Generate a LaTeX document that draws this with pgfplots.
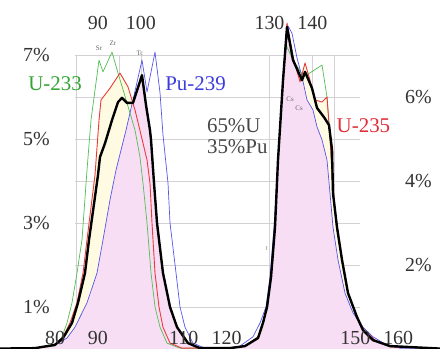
\documentclass[border=0pt]{standalone}
\usepackage{pgfplots}
\pgfplotsset{compat=1.18}
\usepackage{fontspec}
\setmainfont{Liberation Serif}
\definecolor{cU233}{RGB}{80,190,80}
\definecolor{tU233}{RGB}{50,165,50}
\definecolor{cU235}{RGB}{232,60,60}
\definecolor{tU235}{RGB}{225,45,55}
\definecolor{cPu}{RGB}{85,85,235}
\definecolor{tPu}{RGB}{60,60,220}
\definecolor{cream}{RGB}{255,251,226}
\definecolor{pinkf}{RGB}{248,222,244}
\definecolor{gridc}{RGB}{212,208,214}
\begin{document}
\begin{tikzpicture}
\pgfplotsset{base/.style={scale only axis, width=440bp, height=349bp,
  xmin=67.18, xmax=169.74, ymin=0, ymax=8.31,
  axis line style={draw=none}, tick style={draw=none},
  /pgf/number format/assume math mode=true,
  ticklabel style={font=\fontsize{20}{24}\selectfont, text=black!80, inner sep=0pt}}}
\begin{axis}[base, name=main, xtick=\empty, ytick=\empty]
% grid
\foreach \yy in {1,...,7}{ \addplot[gridc, line width=0.6bp] coordinates {(84.7,\yy) (151,\yy)}; }
\foreach \xx in {85,95,100,130,135,140,145}{ \addplot[gridc, line width=0.6bp] coordinates {(\xx,0) (\xx,7)}; }
% cream fill under U-235
\addplot[fill=cream, draw=none] coordinates {
(67.2,0.01)(75.34,0.02)(80.0,0.10)(81.86,0.29)(83.50,0.62)(85.13,1.10)(86.53,1.81)(87.46,2.60)(89.32,4.14)(90.26,5.45)(90.72,5.93)(92.82,6.21)(95.15,6.57)(97.02,6.24)(98.65,5.69)(100.05,5.10)(101.45,4.50)(102.14,3.95)(102.61,3.00)(103.31,1.81)(104.24,1.00)(105.17,0.52)(106.81,0.14)(109.60,0.02)(120.79,0.02)(124.29,0.07)(127.32,0.29)(128.48,0.62)(129.42,1.00)(130.35,1.71)(131.28,2.90)(131.98,4.50)(133.15,6.40)(134.08,7.76)(135.48,6.95)(137.11,6.36)(138.28,6.81)(139.44,6.40)(140.61,5.93)(142.24,5.88)(143.40,6.00)(144.10,5.05)(144.80,3.71)(145.73,2.90)(146.90,2.12)(148.30,1.33)(150.40,0.76)(152.03,0.45)(154.59,0.21)(158.55,0.05)(169.7,0.01)
} \closedcycle;
% pink fill
\addplot[fill=pinkf, draw=none] coordinates {
(75.34,0.02)(80.0,0.10)(82.80,0.26)(84.66,0.52)(87.46,1.10)(89.79,1.81)(91.19,2.60)(92.82,3.55)(94.22,4.26)(96.55,5.21)(98.18,5.86)(100.28,6.52)(101.21,5.81)(102.14,5.21)(102.38,4.98)(103.08,3.95)(103.78,3.00)(105.17,1.81)(106.81,1.00)(108.44,0.52)(111.0,0.14)(113.8,0.02)
} \closedcycle;
\addplot[fill=pinkf, draw=none] coordinates {
(120.79,0.02)(124.29,0.07)(127.32,0.26)(128.48,0.62)(129.42,1.00)(130.35,1.71)(131.28,2.90)(131.98,4.50)(133.15,6.40)(134.08,7.67)(135.48,6.88)(137.58,6.40)(138.74,5.93)(140.14,5.69)(141.07,5.29)(142.24,4.98)(143.40,4.50)(144.10,3.71)(144.80,2.90)(145.97,2.12)(147.60,1.33)(149.46,0.86)(151.79,0.52)(154.13,0.29)(156.92,0.12)(160.42,0.02)
} \closedcycle;
% U-233
\addplot[cU233, line width=0.7bp, line join=round] coordinates {
(67.2,0.01)(75.34,0.02)(80.0,0.07)(81.63,0.29)(82.80,0.62)(83.96,1.10)(85.13,1.81)(86.29,2.60)(87.46,4.26)(88.39,5.45)(90.26,6.88)(91.19,6.60)(93.29,7.07)(94.69,6.57)(96.78,5.86)(98.65,5.21)(99.81,4.57)(100.51,3.95)(101.45,3.00)(102.38,1.81)(103.31,1.00)(104.48,0.52)(106.11,0.14)(109.14,0.02)(120.79,0.02)(124.29,0.07)(127.32,0.29)(128.48,0.62)(129.42,1.00)(130.35,1.71)(131.28,2.90)(131.98,4.50)(133.15,6.40)(133.85,7.24)(135.48,6.88)(138.0,6.48)(142.24,6.76)(143.40,6.00)(144.10,5.05)(144.80,3.71)(145.73,2.90)(146.90,2.12)(148.30,1.33)(150.16,0.76)(151.79,0.45)(154.13,0.21)(158.09,0.05)(169.7,0.01)
};
% Pu-239
\addplot[cPu, line width=0.7bp, line join=round] coordinates {
(67.2,0.01)(75.34,0.02)(80.0,0.10)(82.80,0.26)(84.66,0.52)(87.46,1.10)(89.79,1.81)(91.19,2.60)(92.82,3.55)(94.22,4.26)(96.55,5.21)(98.18,5.93)(100.28,6.88)(101.45,6.12)(103.31,7.07)(104.48,6.10)(105.17,5.10)(106.34,3.95)(106.81,3.00)(108.21,1.81)(109.14,1.00)(110.30,0.52)(112.17,0.14)(114.97,0.02)(119.6,0.02)(123.12,0.07)(126.15,0.29)(127.79,0.62)(129.18,1.00)(130.12,1.71)(131.05,2.90)(131.98,4.50)(133.15,6.40)(134.31,7.69)(135.24,7.52)(136.41,6.93)(137.58,6.48)(138.74,5.93)(140.14,5.69)(141.07,5.29)(142.24,4.98)(143.40,4.50)(144.10,3.71)(144.80,2.90)(145.97,2.12)(147.60,1.33)(149.46,0.86)(151.79,0.52)(154.13,0.29)(156.92,0.12)(160.42,0.02)(169.7,0.01)
};
% U-235
\addplot[cU235, line width=0.9bp, line join=round] coordinates {
(67.2,0.01)(75.34,0.02)(80.0,0.10)(81.86,0.29)(83.50,0.62)(85.13,1.10)(86.53,1.81)(87.46,2.60)(89.32,4.14)(90.26,5.45)(90.72,5.93)(92.82,6.21)(95.15,6.57)(97.02,6.24)(98.65,5.69)(100.05,5.10)(101.45,4.50)(102.14,3.95)(102.61,3.00)(103.31,1.81)(104.24,1.00)(105.17,0.52)(106.81,0.14)(109.60,0.02)(120.79,0.02)(124.29,0.07)(127.32,0.29)(128.48,0.62)(129.42,1.00)(130.35,1.71)(131.28,2.90)(131.98,4.50)(133.15,6.40)(134.08,7.76)(135.48,6.95)(137.11,6.36)(138.28,6.81)(139.44,6.40)(140.61,5.93)(142.24,5.88)(143.40,6.00)(144.10,5.05)(144.80,3.71)(145.73,2.90)(146.90,2.12)(148.30,1.33)(150.40,0.76)(152.03,0.45)(154.59,0.21)(158.55,0.05)(169.7,0.01)
};
% 65% U + 35% Pu
\addplot[black, line width=2.4bp, line join=round] coordinates {
(67.2,0.01)(75.34,0.02)(80.0,0.10)(81.86,0.26)(83.96,0.62)(85.36,1.10)(86.99,1.81)(87.93,2.60)(90.02,4.14)(90.49,4.57)(91.66,4.90)(93.29,5.45)(94.69,5.88)(95.62,5.98)(96.78,5.86)(98.18,5.86)(100.28,6.52)(101.21,5.81)(102.14,5.21)(102.38,4.98)(103.08,3.95)(103.78,3.00)(105.17,1.81)(106.81,1.00)(108.44,0.52)(111.0,0.14)(113.8,0.02)(120.79,0.02)(124.29,0.07)(127.32,0.26)(128.48,0.62)(129.42,1.00)(130.35,1.71)(131.28,2.90)(131.98,4.50)(133.15,6.40)(134.08,7.67)(135.48,6.88)(137.58,6.40)(138.28,6.60)(139.91,6.21)(141.07,5.74)(142.70,5.52)(143.87,5.33)(144.57,4.74)(144.80,3.71)(145.73,2.90)(146.90,2.12)(148.30,1.33)(150.40,0.76)(151.79,0.45)(154.13,0.21)(158.09,0.07)(169.7,0.01)
};
% labels
\node[text=tU233, font=\fontsize{21}{25}\selectfont] at (axis cs:80.0,6.31) {U-233};
\node[text=tPu, font=\fontsize{21}{25}\selectfont] at (axis cs:112.75,6.31) {Pu-239};
\node[text=tU235, font=\fontsize{21}{25}\selectfont] at (axis cs:151.9,5.31) {U-235};
\node[text=black!72, anchor=west, inner sep=0pt, font=\fontsize{21}{25}\selectfont] at (axis cs:115.4,5.31) {65\%U};
\node[text=black!72, anchor=west, inner sep=0pt, font=\fontsize{21}{25}\selectfont] at (axis cs:115.4,4.81) {35\%Pu};
\node[text=black!60, font=\fontsize{7}{8}\selectfont] at (axis cs:90.26,7.17) {Sr};
\node[text=black!60, font=\fontsize{7}{8}\selectfont] at (axis cs:93.5,7.29) {Zr};
\node[text=black!60, font=\fontsize{7}{8}\selectfont] at (axis cs:99.8,7.05) {Tc};
\node[text=black!60, font=\fontsize{7}{8}\selectfont] at (axis cs:134.8,5.95) {Cs};
\node[text=black!60, font=\fontsize{7}{8}\selectfont] at (axis cs:136.9,5.74) {Cs};
\node[text=black!50, font=\fontsize{6}{7}\selectfont] at (axis cs:129.4,2.40) {I};
\end{axis}
\begin{axis}[base,
  xtick={80,90,110,120,150,160},
  xticklabel style={anchor=center, yshift=11bp},
  ytick={1,3,5,7}, yticklabels={1\%,3\%,5\%,7\%},
  yticklabel style={anchor=east, xshift=50bp}]
\addplot[draw=none] coordinates {(100,1)};
\end{axis}
\begin{axis}[base,
  xtick={90,100,130,140}, xticklabel pos=right,
  xticklabel style={anchor=center, yshift=-23bp},
  ytick={2,4,6}, yticklabels={2\%,4\%,6\%}, yticklabel pos=right,
  yticklabel style={anchor=west, xshift=-35bp}]
\addplot[draw=none] coordinates {(100,1)};
\end{axis}
\pgfresetboundingbox
\useasboundingbox (main.south west) rectangle (main.north east);
\end{tikzpicture}
\end{document}
